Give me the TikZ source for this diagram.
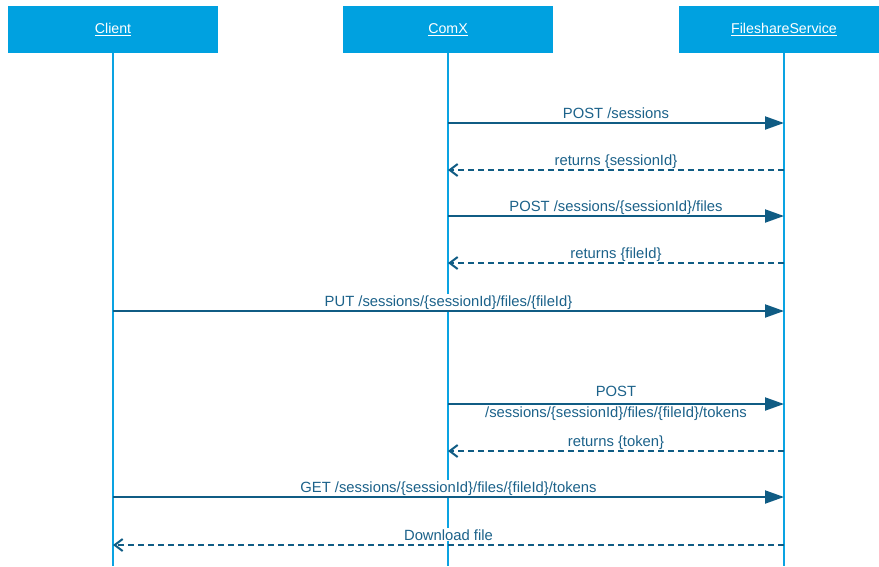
\documentclass[tikz,border=0pt]{standalone}
\usepackage{fontspec}
\setmainfont{Liberation Sans}
\usetikzlibrary{positioning}
\usetikzlibrary{arrows.meta}
\definecolor{headblue}{RGB}{0,161,224}
\definecolor{lineblue}{RGB}{10,163,226}
\definecolor{msgblue}{RGB}{16,92,132}
\definecolor{txtblue}{RGB}{28,98,138}

\begin{document}
\begin{tikzpicture}[x=1pt, y=-1pt,
    every node/.style={font=\fontsize{14.8}{21}\selectfont},
    actor/.style={rectangle, fill=headblue, text=white, minimum width=210pt, minimum height=47pt, font=\fontsize{14.2}{16}\selectfont},
    lifeline/.style={lineblue, line width=1.8pt},
    msg/.style={msgblue, line width=2pt, -{Triangle[length=19pt, width=13pt]}},
    reply/.style={msgblue, line width=2pt, dash pattern=on 6pt off 4pt, -{Straight Barb[length=8pt, width=12pt, line width=2pt]}},
    lbl/.style={fill=white, text=txtblue, inner sep=1pt}]
    \useasboundingbox (0,0) rectangle (879,566);
    \clip (0,0) rectangle (879,566);

    \node[actor] (client) at (113, 29.5) {\underline{Client}};
    \node[actor] (comx) at (448, 29.5) {\underline{ComX}};
    \node[actor] (fss) at (784, 29.5) {\underline{FileshareService}};

    \foreach \a in {client, comx, fss} {
        \coordinate (\a-end) at (\a |- 0,566);
        \draw[lifeline] (\a.south) -- (\a-end);
    }

    % one line per message: number / y / from / to / style / text
    \foreach \n/\y/\from/\to/\sty/\txt in {
        1/123/comx/fss/msg/{POST /sessions},
        2/170/fss/comx/reply/{returns \{sessionId\}},
        3/216/comx/fss/msg/{POST /sessions/\{sessionId\}/files},
        4/263/fss/comx/reply/{returns \{fileId\}},
        5/311/client/fss/msg/{PUT /sessions/\{sessionId\}/files/\{fileId\}},
        7/451/fss/comx/reply/{returns \{token\}},
        8/497/client/fss/msg/{GET /sessions/\{sessionId\}/files/\{fileId\}/tokens},
        9/545/fss/client/reply/{Download file}} {
        \coordinate (m\n-s) at (\from |- 0,\y);
        \coordinate (m\n-e) at (\to |- 0,\y);
        \path (m\n-s) -- node[lbl, anchor=base, yshift=5pt] (l\n) {\txt} (m\n-e);
        \draw[\sty] (m\n-s) -- (m\n-e);
    }

    % the token request has its label on two lines
    \coordinate (m6-s) at (comx |- 0,404);
    \coordinate (m6-e) at (fss |- 0,404);
    \path (m6-s) -- node[text=txtblue, align=center, yshift=0.5pt] (l6) {POST\\/sessions/\{sessionId\}/files/\{fileId\}/tokens} (m6-e);
    \draw[msg] (m6-s) -- (m6-e);
\end{tikzpicture}
\end{document}
